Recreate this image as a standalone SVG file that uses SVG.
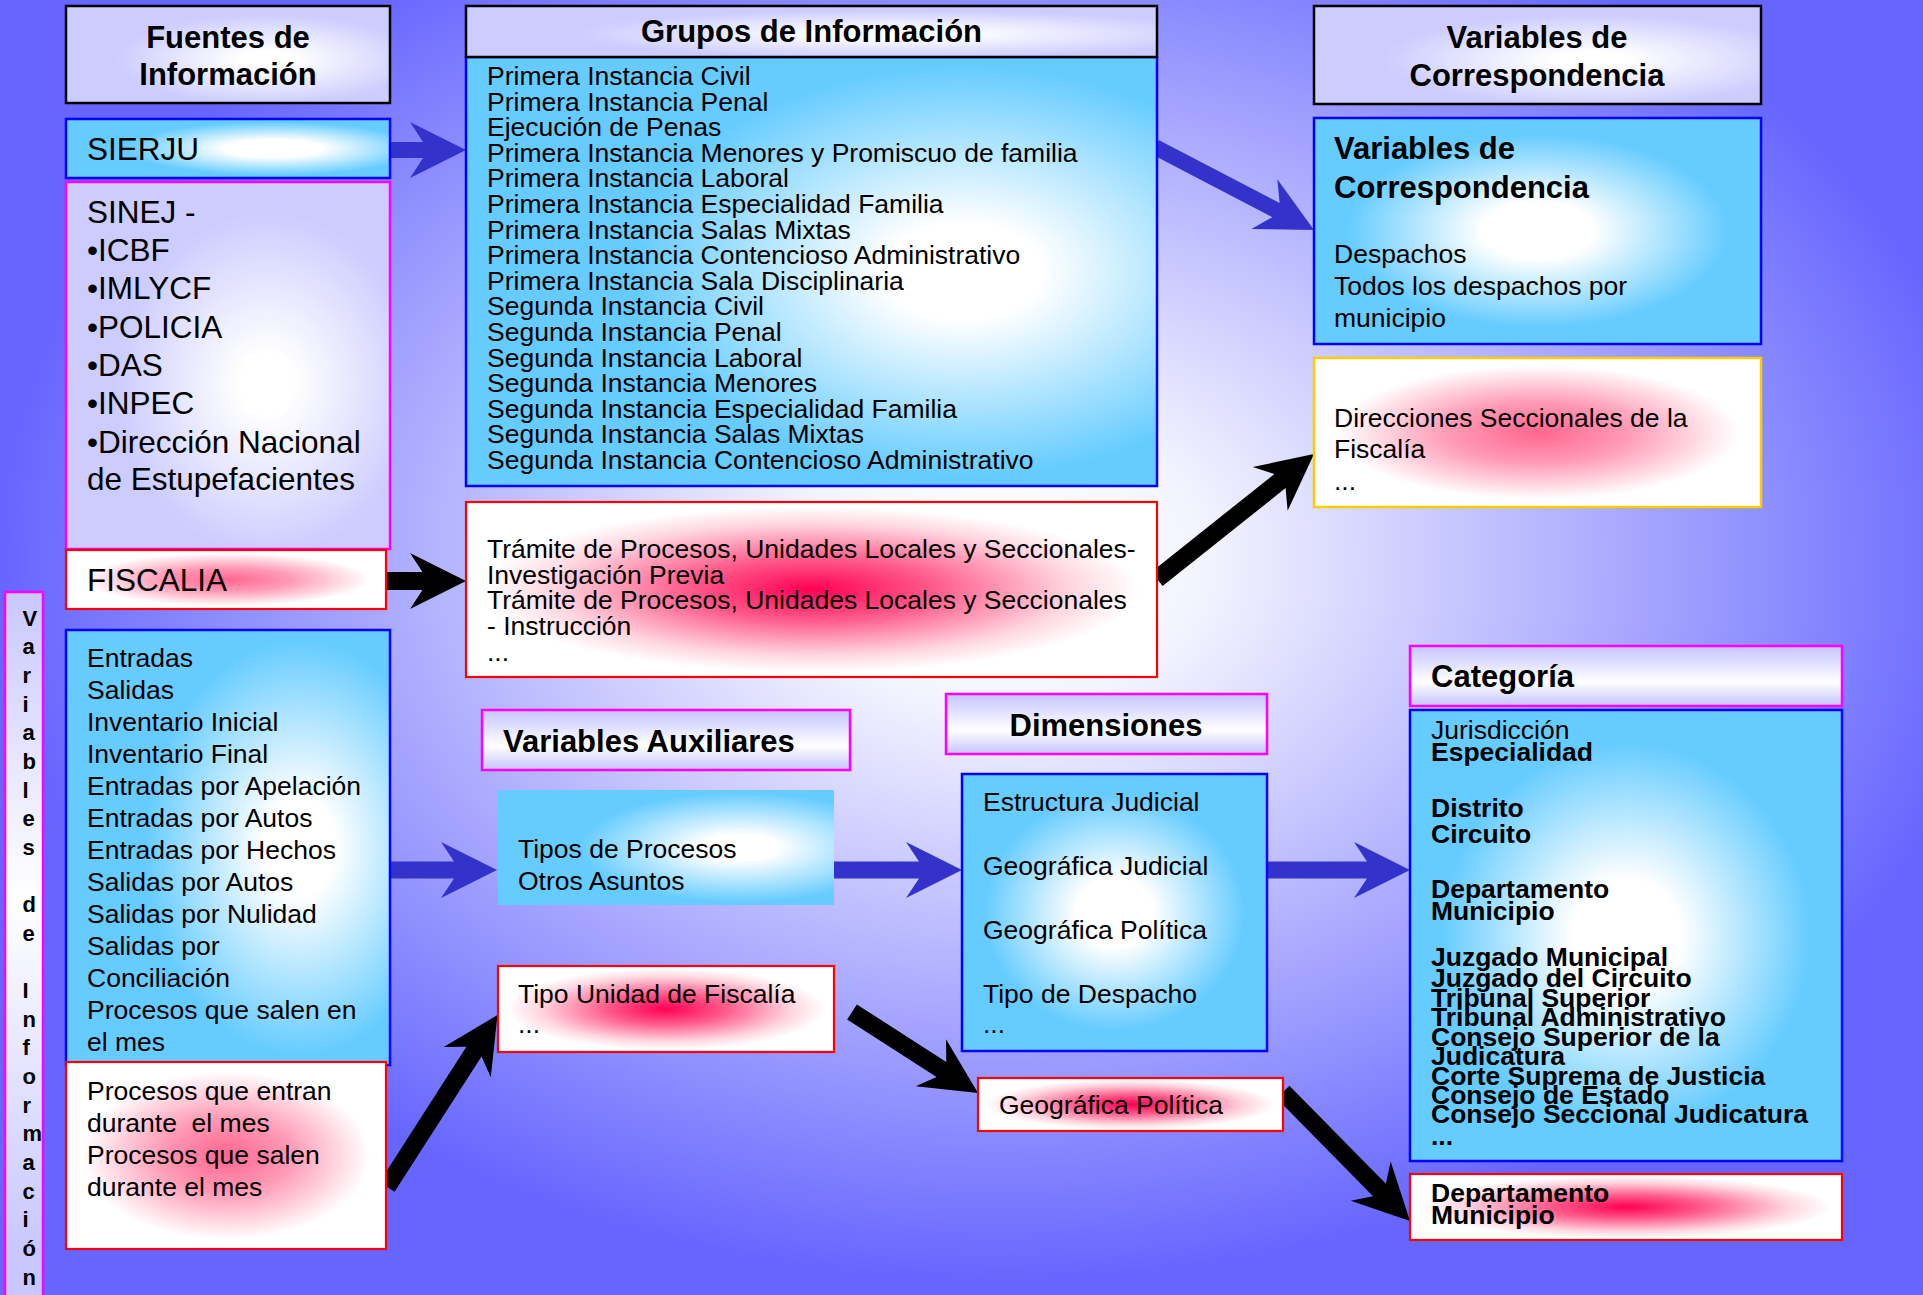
<svg xmlns="http://www.w3.org/2000/svg" width="1923" height="1295" viewBox="0 0 1923 1295">
<style>
text{font-family:"Liberation Sans",Arial,sans-serif;fill:#000}
.hd{font-weight:bold;font-size:31px}
.r{font-size:26.5px}
.big{font-size:31.5px}
.bb{font-weight:bold;font-size:26.5px}
.vt{font-weight:bold;font-size:22px}
.kb{stroke:#000;stroke-width:2.5}
.kblue{stroke:#0000ff;stroke-width:2.5}
.kmag{stroke:#ff00ff;stroke-width:2.5}
.kred{stroke:#ff0000;stroke-width:2.2}
.kgold{stroke:#ffcc00;stroke-width:2.5}
.ab{fill:#3333cc}
.ak{fill:#000}
</style>
<defs>
<radialGradient id="bg" gradientUnits="userSpaceOnUse" cx="0" cy="0" r="1" gradientTransform="translate(1000 560) scale(1000 720)">
<stop offset="0" stop-color="#ffffff"/><stop offset="0.2" stop-color="#f4f4ff"/><stop offset="1" stop-color="#6666ff"/>
</radialGradient>
<radialGradient id="cyC" cx="0.5" cy="0.5" r="0.5"><stop offset="0" stop-color="#ffffff"/><stop offset="0.25" stop-color="#ffffff"/><stop offset="0.85" stop-color="#66ccff"/></radialGradient>
<radialGradient id="cyR" cx="0.72" cy="0.5" fx="0.72" fy="0.5" r="0.56"><stop offset="0" stop-color="#ffffff"/><stop offset="0.2" stop-color="#ffffff"/><stop offset="0.85" stop-color="#66ccff"/></radialGradient>
<radialGradient id="cyS" cx="0.64" cy="0.5" fx="0.64" fy="0.5" r="0.5"><stop offset="0" stop-color="#ffffff"/><stop offset="0.3" stop-color="#ffffff"/><stop offset="0.9" stop-color="#66ccff"/></radialGradient>
<radialGradient id="lav" cx="0.62" cy="0.55" fx="0.62" fy="0.55" r="0.55"><stop offset="0" stop-color="#ffffff"/><stop offset="0.15" stop-color="#ffffff"/><stop offset="0.85" stop-color="#ccccff"/></radialGradient>
<linearGradient id="lavV" x1="0" y1="0" x2="0" y2="1"><stop offset="0" stop-color="#c4c4ff"/><stop offset="0.6" stop-color="#ffffff"/><stop offset="1" stop-color="#c4c4ff"/></linearGradient>
<linearGradient id="lavS" x1="0" y1="0" x2="0" y2="1"><stop offset="0" stop-color="#c8c8ff"/><stop offset="0.43" stop-color="#ffffff"/><stop offset="0.92" stop-color="#c8c8ff"/></linearGradient>
<radialGradient id="pkS" cx="0.5" cy="0.5" r="0.5"><stop offset="0" stop-color="#ff0055"/><stop offset="0.35" stop-color="#ff5a8a"/><stop offset="0.75" stop-color="#ffd6e0"/><stop offset="0.95" stop-color="#ffffff"/></radialGradient>
<radialGradient id="pkL" cx="0.5" cy="0.5" r="0.5"><stop offset="0" stop-color="#ff6690"/><stop offset="0.4" stop-color="#ff9ab5"/><stop offset="0.9" stop-color="#ffffff"/></radialGradient>
</defs>
<rect width="1923" height="1295" fill="url(#bg)"/>
<g id="connectors">
<path class="ab" d="M389,142 H423 L410,122 L466,150 L410,178 L423,158 H389 Z"/>
<path class="ak" d="M386,572 H422.5 L410,553 L466,581 L410,609 L422.5,590 H386 Z"/>
<path class="ab" d="M0,-8 H136.4 L123.4,-28 L179.4,0 L123.4,28 L136.4,8 H0 Z" transform="translate(1155 147) rotate(27.57)"/>
<path class="ak" d="M0,-9 H157.2 L144.7,-28 L200.7,0 L144.7,28 L157.2,9 H0 Z" transform="translate(1157 579) rotate(-38.53)"/>
<path class="ab" d="M390,861.5 H454 L441,842 L497,870 L441,898 L454,878.5 H390 Z"/>
<path class="ab" d="M834,861.5 H919 L906,842 L962,870 L906,898 L919,878.5 H834 Z"/>
<path class="ab" d="M1267,861.5 H1367 L1354,842 L1410,870 L1354,898 L1367,878.5 H1267 Z"/>
<path class="ak" d="M0,-9 H160.9 L148.4,-28 L204.4,0 L148.4,28 L160.9,9 H0 Z" transform="translate(387 1187) rotate(-57.28)"/>
<path class="ak" d="M0,-9 H106.3 L93.8,-28 L149.8,0 L93.8,28 L106.3,9 H0 Z" transform="translate(852 1012) rotate(32.74)"/>
<path class="ak" d="M0,-9 H137.5 L125,-28 L181,0 L125,28 L137.5,9 H0 Z" transform="translate(1283 1092) rotate(45.45)"/>
</g>
<g id="vertical-label">
<rect x="5" y="592" width="38" height="712" fill="url(#lavS)" class="kmag"/>
<text class="vt"><tspan x="22.5" y="625.7">V</tspan><tspan x="22.5" y="654.3">a</tspan><tspan x="22.5" y="683">r</tspan><tspan x="22.5" y="711.6">i</tspan><tspan x="22.5" y="740.3">a</tspan><tspan x="22.5" y="768.9">b</tspan><tspan x="22.5" y="797.6">l</tspan><tspan x="22.5" y="826.2">e</tspan><tspan x="22.5" y="854.9">s</tspan><tspan x="22.5" y="912.2">d</tspan><tspan x="22.5" y="940.8">e</tspan><tspan x="22.5" y="998.1">I</tspan><tspan x="22.5" y="1026.8">n</tspan><tspan x="22.5" y="1055.4">f</tspan><tspan x="22.5" y="1084.1">o</tspan><tspan x="22.5" y="1112.7">r</tspan><tspan x="22.5" y="1141.4">m</tspan><tspan x="22.5" y="1170">a</tspan><tspan x="22.5" y="1198.7">c</tspan><tspan x="22.5" y="1227.3">i</tspan><tspan x="22.5" y="1256">ó</tspan><tspan x="22.5" y="1284.6">n</tspan></text>
</g>
<g id="fuentes-header">
<rect x="66" y="6" width="324" height="97" fill="url(#lav)" class="kb"/>
<text class="hd" text-anchor="middle"><tspan x="228" y="48">Fuentes de</tspan><tspan x="228" y="85">Información</tspan></text>
</g>
<g id="sierju">
<rect x="66" y="119" width="324" height="59" fill="url(#cyS)" class="kblue"/>
<text class="big" x="87" y="160">SIERJU</text>
</g>
<g id="sinej">
<rect x="66" y="182" width="324" height="367" fill="url(#lav)" class="kmag"/>
<text class="big"><tspan x="87" y="223">SINEJ -</tspan><tspan x="87" y="261">•ICBF</tspan><tspan x="87" y="299">•IMLYCF</tspan><tspan x="87" y="338">•POLICIA</tspan><tspan x="87" y="376">•DAS</tspan><tspan x="87" y="414">•INPEC</tspan><tspan x="87" y="453">•Dirección Nacional</tspan><tspan x="87" y="490">de Estupefacientes</tspan></text>
</g>
<g id="fiscalia">
<rect x="66" y="550" width="320" height="59" fill="url(#pkL)" class="kred"/>
<text class="big" x="87" y="591">FISCALIA</text>
</g>
<g id="grupos">
<rect x="466" y="57" width="691" height="429" fill="url(#cyR)" class="kblue"/>
<rect x="466" y="6" width="691" height="51" fill="url(#lav)" class="kb"/>
<text class="hd" x="811.5" y="42" text-anchor="middle">Grupos de Información</text>
<text class="r"><tspan x="487" y="85">Primera Instancia Civil</tspan><tspan x="487" y="110.6">Primera Instancia Penal</tspan><tspan x="487" y="136.2">Ejecución de Penas</tspan><tspan x="487" y="161.8">Primera Instancia Menores y Promiscuo de familia</tspan><tspan x="487" y="187.4">Primera Instancia Laboral</tspan><tspan x="487" y="213">Primera Instancia Especialidad Familia</tspan><tspan x="487" y="238.6">Primera Instancia Salas Mixtas</tspan><tspan x="487" y="264.2">Primera Instancia Contencioso Administrativo</tspan><tspan x="487" y="289.8">Primera Instancia Sala Disciplinaria</tspan><tspan x="487" y="315.4">Segunda Instancia Civil</tspan><tspan x="487" y="341">Segunda Instancia Penal</tspan><tspan x="487" y="366.6">Segunda Instancia Laboral</tspan><tspan x="487" y="392.2">Segunda Instancia Menores</tspan><tspan x="487" y="417.8">Segunda Instancia Especialidad Familia</tspan><tspan x="487" y="443.4">Segunda Instancia Salas Mixtas</tspan><tspan x="487" y="469">Segunda Instancia Contencioso Administrativo</tspan></text>
</g>
<g id="tramite">
<rect x="466" y="502" width="691" height="175" fill="url(#pkS)" class="kred"/>
<text class="r"><tspan x="487" y="558">Trámite de Procesos, Unidades Locales y Seccionales-</tspan><tspan x="487" y="584">Investigación Previa</tspan><tspan x="487" y="609">Trámite de Procesos, Unidades Locales y Seccionales</tspan><tspan x="487" y="635">- Instrucción</tspan><tspan x="487" y="661">...</tspan></text>
</g>
<g id="correspondencia-header">
<rect x="1314" y="6" width="447" height="98" fill="url(#lav)" class="kb"/>
<text class="hd" text-anchor="middle"><tspan x="1537" y="48">Variables de</tspan><tspan x="1537" y="86">Correspondencia</tspan></text>
</g>
<g id="correspondencia">
<rect x="1314" y="118" width="447" height="226" fill="url(#cyC)" class="kblue"/>
<text class="hd"><tspan x="1334" y="159">Variables de</tspan><tspan x="1334" y="198">Correspondencia</tspan></text>
<text class="r"><tspan x="1334" y="263">Despachos</tspan><tspan x="1334" y="295">Todos los despachos por</tspan><tspan x="1334" y="327">municipio</tspan></text>
</g>
<g id="direcciones">
<rect x="1314" y="358" width="447" height="149" fill="url(#pkL)" class="kgold"/>
<text class="r"><tspan x="1334" y="427">Direcciones Seccionales de la</tspan><tspan x="1334" y="458">Fiscalía</tspan><tspan x="1334" y="490">...</tspan></text>
</g>
<g id="entradas">
<rect x="66" y="630" width="324" height="435" fill="url(#cyR)" class="kblue"/>
<text class="r"><tspan x="87" y="667">Entradas</tspan><tspan x="87" y="699">Salidas</tspan><tspan x="87" y="731">Inventario Inicial</tspan><tspan x="87" y="763">Inventario Final</tspan><tspan x="87" y="795">Entradas por Apelación</tspan><tspan x="87" y="827">Entradas por Autos</tspan><tspan x="87" y="859">Entradas por Hechos</tspan><tspan x="87" y="891">Salidas por Autos</tspan><tspan x="87" y="923">Salidas por Nulidad</tspan><tspan x="87" y="955">Salidas por</tspan><tspan x="87" y="987">Conciliación</tspan><tspan x="87" y="1019">Procesos que salen en</tspan><tspan x="87" y="1051">el mes</tspan></text>
</g>
<g id="procesos">
<rect x="66" y="1062" width="320" height="187" fill="url(#pkL)" class="kred"/>
<text class="r"><tspan x="87" y="1100">Procesos que entran</tspan><tspan x="87" y="1132">durante&#160; el mes</tspan><tspan x="87" y="1164">Procesos que salen</tspan><tspan x="87" y="1196">durante el mes</tspan></text>
</g>
<g id="auxiliares-header">
<rect x="482" y="710" width="368" height="60" fill="url(#lavV)" class="kmag"/>
<text class="hd" x="503" y="752">Variables Auxiliares</text>
</g>
<g id="tipos-procesos">
<rect x="498" y="790" width="336" height="115" fill="url(#cyR)"/>
<text class="r"><tspan x="518" y="858">Tipos de Procesos</tspan><tspan x="518" y="890">Otros Asuntos</tspan></text>
</g>
<g id="tipo-unidad">
<rect x="498" y="966" width="336" height="86" fill="url(#pkS)" class="kred"/>
<text class="r"><tspan x="518" y="1003">Tipo Unidad de Fiscalía</tspan><tspan x="518" y="1033">...</tspan></text>
</g>
<g id="dimensiones-header">
<rect x="946" y="694" width="321" height="60" fill="url(#lavV)" class="kmag"/>
<text class="hd" x="1106" y="736" text-anchor="middle">Dimensiones</text>
</g>
<g id="dimensiones">
<rect x="962" y="774" width="305" height="277" fill="url(#cyC)" class="kblue"/>
<text class="r"><tspan x="983" y="811">Estructura Judicial</tspan><tspan x="983" y="875">Geográfica Judicial</tspan><tspan x="983" y="939">Geográfica Política</tspan><tspan x="983" y="1003">Tipo de Despacho</tspan><tspan x="983" y="1033">...</tspan></text>
</g>
<g id="geografica-politica">
<rect x="978" y="1078" width="305" height="53" fill="url(#pkS)" class="kred"/>
<text class="r" x="999" y="1114">Geográfica Política</text>
</g>
<g id="categoria-header">
<rect x="1410" y="646" width="432" height="60" fill="url(#lavV)" class="kmag"/>
<text class="hd" x="1431" y="687">Categoría</text>
</g>
<g id="categoria">
<rect x="1410" y="710" width="432" height="451" fill="url(#cyC)" class="kblue"/>
<text class="r" x="1431" y="739.4">Jurisdicción</text>
<text class="bb"><tspan x="1431" y="760.6">Especialidad</tspan><tspan x="1431" y="817.4">Distrito</tspan><tspan x="1431" y="843.3">Circuito</tspan><tspan x="1431" y="898.4">Departamento</tspan><tspan x="1431" y="920.4">Municipio</tspan><tspan x="1431" y="966.2">Juzgado Municipal</tspan><tspan x="1431" y="987.4">Juzgado del Circuito</tspan><tspan x="1431" y="1007.4">Tribunal Superior</tspan><tspan x="1431" y="1026.4">Tribunal Administrativo</tspan><tspan x="1431" y="1046.4">Consejo Superior de la</tspan><tspan x="1431" y="1065.4">Judicatura</tspan><tspan x="1431" y="1085">Corte Suprema de Justicia</tspan><tspan x="1431" y="1104">Consejo de Estado</tspan><tspan x="1431" y="1123">Consejo Seccional Judicatura</tspan><tspan x="1431" y="1145">...</tspan></text>
</g>
<g id="departamento">
<rect x="1410" y="1174" width="432" height="66" fill="url(#pkS)" class="kred"/>
<text class="bb"><tspan x="1431" y="1202.4">Departamento</tspan><tspan x="1431" y="1223.6">Municipio</tspan></text>
</g>
</svg>
